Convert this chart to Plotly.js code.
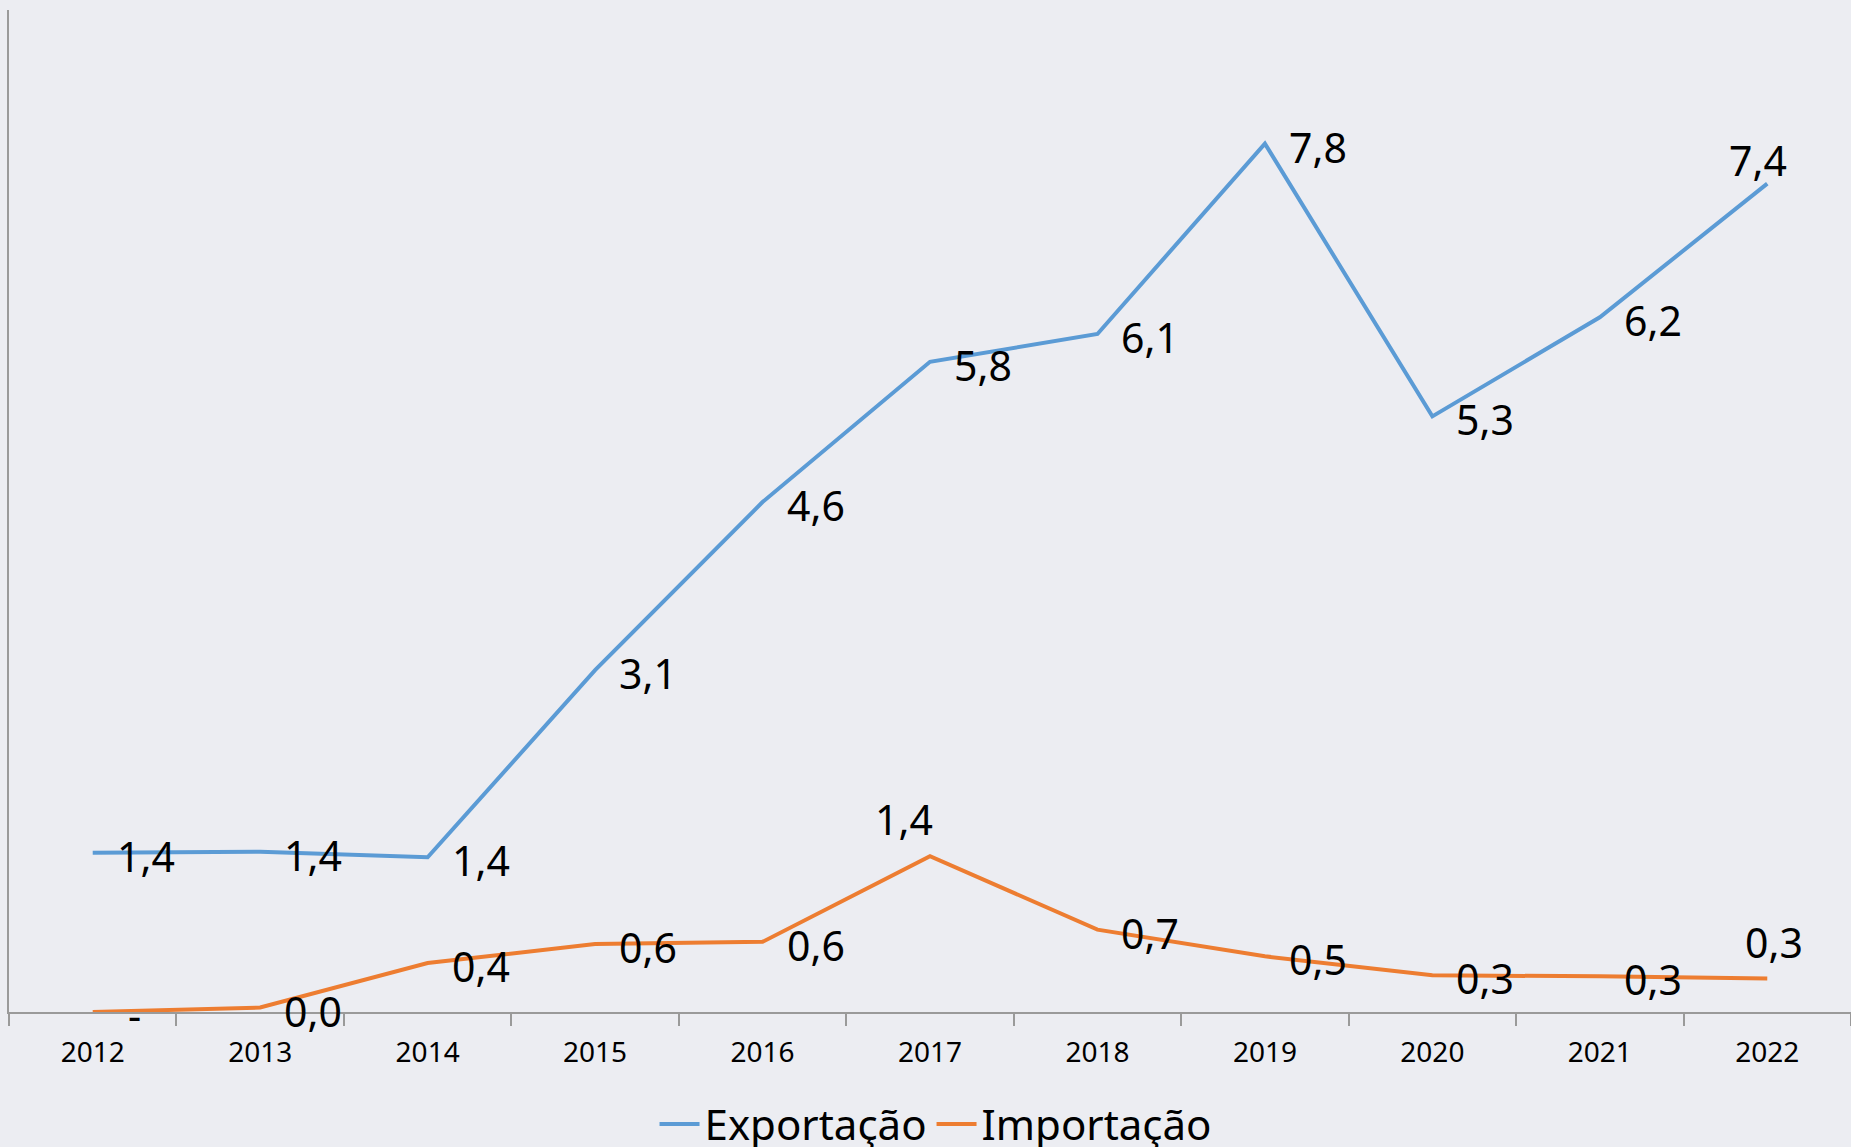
<!DOCTYPE html>
<html>
<head>
<meta charset="utf-8">
<script src="https://cdn.plot.ly/plotly-3.0.1.min.js"></script>
<style>html,body{margin:0;padding:0;background:#ECEDF2;}#chart{width:1851px;height:1147px;}</style>
</head>
<body>
<div id="chart"></div>
<script>
const years = ['2012','2013','2014','2015','2016','2017','2018','2019','2020','2021','2022'];
const exportacao = [1.43, 1.44, 1.39, 3.07, 4.58, 5.84, 6.09, 7.80, 5.35, 6.24, 7.44];
const importacao = [0, 0.04, 0.44, 0.61, 0.63, 1.40, 0.74, 0.50, 0.33, 0.32, 0.30];
const seriesNames = ['Exportação', 'Importação'];
const seriesColors = ['#5B9BD5', '#ED7D31'];

// label placement: default right of the point, a few moved above (as in the original)
const expLabelPos = ['r','r','r','r','r','r','r','r','r','r','a'];
const impLabelPos = ['r','r','r','r','r','a','r','r','r','r','a'];

function fmt(v){ return v === 0 ? '-' : v.toFixed(1).replace('.', ','); }

function makeAnn(vals, pos, aboveShift){
  return vals.map((v,i)=>{
    const t = fmt(v);
    const a = {x: i, y: v, xref:'x', yref:'y', text: t, showarrow:false,
               font: {family:'Noto Sans, sans-serif', size:41, color:'#000000'}};
    if(pos[i] === 'r'){ a.xanchor='left'; a.yanchor='middle'; a.xshift=(t === '-' ? 33 : 22); a.yshift=-3; }
    else { a.xanchor='center'; a.yanchor='middle'; a.xshift=aboveShift[i][0]; a.yshift=aboveShift[i][1]; }
    return a;
  });
}
const expAbove = {10:[-9,24]};
const impAbove = {5:[-26,37], 10:[7,37]};

const traces = [
  {x: years, y: exportacao, name: seriesNames[0], type:'scatter', mode:'lines',
   line:{color: seriesColors[0], width:4}, hoverinfo:'skip'},
  {x: years, y: importacao, name: seriesNames[1], type:'scatter', mode:'lines',
   line:{color: seriesColors[1], width:4}, hoverinfo:'skip'}
];

const layout = {
  width:1851, height:1147,
  paper_bgcolor:'#ECEDF2', plot_bgcolor:'#ECEDF2',
  margin:{l:9, r:0, t:10, b:135, autoexpand:false},
  font:{family:'Noto Sans, sans-serif', color:'#000'},
  showlegend:true,
  legend:{orientation:'h', x:0.503, xanchor:'center', y:-0.112, yanchor:'middle', itemwidth:40,
          font:{family:'Noto Sans, sans-serif', size:42, color:'#000'}, bgcolor:'rgba(0,0,0,0)'},
  xaxis:{type:'category', range:[-0.5,10.5], tickson:'boundaries', ticks:'outside', ticklen:12,
         tickcolor:'#9A9A9A', tickwidth:1.5, showline:true, linecolor:'#9A9A9A', linewidth:2,
         showgrid:false, zeroline:false, ticklabelstandoff:14,
         tickfont:{family:'Noto Sans, sans-serif', size:28, color:'#000'}},
  yaxis:{range:[0,9], showline:true, linecolor:'#9A9A9A', linewidth:2, showgrid:false,
         zeroline:false, showticklabels:false, ticks:''},
  annotations: makeAnn(exportacao, expLabelPos, expAbove).concat(makeAnn(importacao, impLabelPos, impAbove))
};

Plotly.newPlot('chart', traces, layout, {displayModeBar:false});
</script>
</body>
</html>
